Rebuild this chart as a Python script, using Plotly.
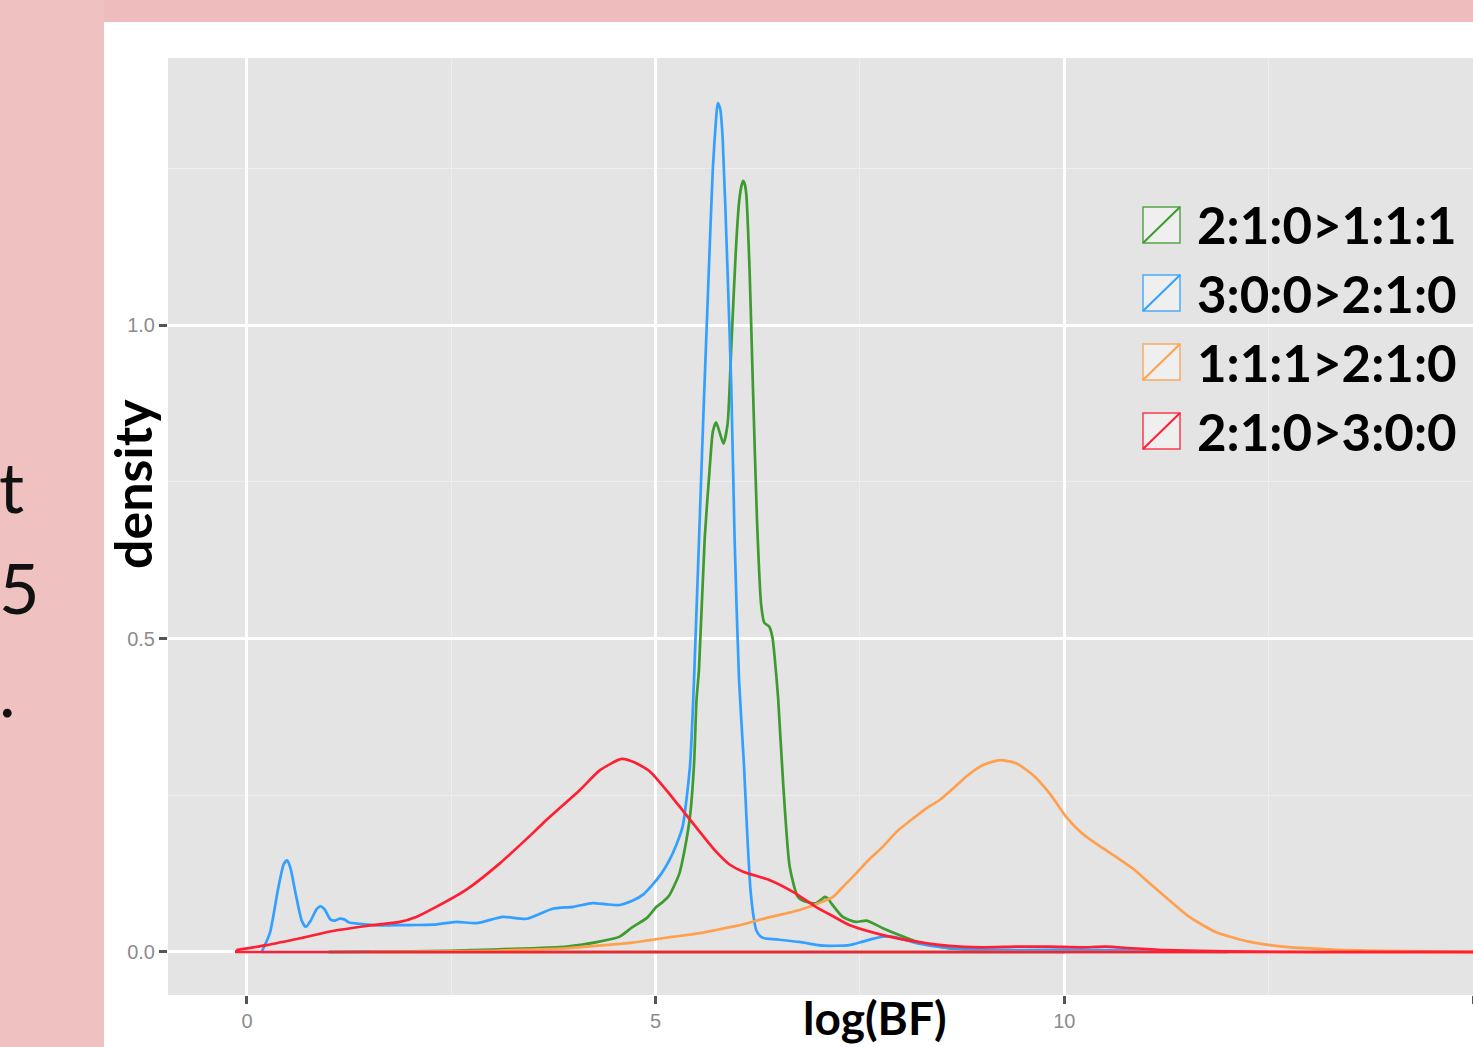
import plotly.graph_objects as go

# ---------------- data ----------------
series_names = ["2:1:0>1:1:1", "3:0:0>2:1:0", "1:1:1>2:1:0", "2:1:0>3:0:0"]
series_colors = ["#3E9B2F", "#33A0FF", "#FFA04E", "#FF1F33"]

green_x = [1.0, 2.0, 2.5, 3.0, 3.5, 3.91, 4.31, 4.56, 4.72, 4.89, 5.01, 5.09, 5.17, 5.29, 5.35,
           5.42, 5.47, 5.50, 5.53, 5.60, 5.66, 5.70, 5.74, 5.78, 5.83, 5.88, 5.925, 5.98, 6.02,
           6.05, 6.07, 6.09, 6.11, 6.15, 6.19, 6.24, 6.29, 6.33, 6.39, 6.43, 6.48, 6.50, 6.56,
           6.64, 6.74, 6.84, 6.96, 7.03, 7.07, 7.11, 7.15, 7.29, 7.45, 7.58, 7.78, 7.98, 8.19,
           8.59, 9.0, 9.5, 10.0]
green_y = [0.0, 0.001, 0.002, 0.004, 0.006, 0.0085, 0.0165, 0.0245, 0.040, 0.054, 0.072, 0.080,
           0.091, 0.125, 0.16, 0.216, 0.30, 0.402, 0.45, 0.659, 0.769, 0.83, 0.845, 0.83, 0.811,
           0.842, 0.963, 1.116, 1.195, 1.222, 1.230, 1.225, 1.207, 1.085, 0.903, 0.689, 0.555,
           0.525, 0.519, 0.501, 0.435, 0.402, 0.269, 0.136, 0.088, 0.080, 0.0776, 0.084, 0.088,
           0.085, 0.0776, 0.056, 0.048, 0.050, 0.038, 0.027, 0.0165, 0.006, 0.003, 0.002, 0.0]

blue_x = [0.18, 0.28, 0.38, 0.45, 0.49, 0.53, 0.60, 0.67, 0.72, 0.78, 0.85, 0.90, 0.95, 1.02,
          1.08, 1.13, 1.19, 1.25, 1.38, 1.55, 1.71, 2.0, 2.28, 2.56, 2.81, 3.13, 3.42, 3.74,
          3.99, 4.23, 4.40, 4.56, 4.72, 4.85, 4.96, 5.07, 5.17, 5.25, 5.33, 5.42, 5.47, 5.58,
          5.65, 5.70, 5.74, 5.76, 5.79, 5.82, 5.88, 5.925, 5.966, 6.02, 6.08, 6.12, 6.16, 6.20,
          6.23, 6.28, 6.33, 6.48, 6.76, 7.05, 7.37, 7.53, 7.78, 7.94, 8.19, 8.59, 9.0, 9.5,
          10.0, 10.5, 11.0, 11.5, 12.0]
blue_y = [0.0, 0.03, 0.10, 0.14, 0.146, 0.135, 0.09, 0.05, 0.040, 0.050, 0.068, 0.073, 0.068,
          0.052, 0.050, 0.053, 0.052, 0.047, 0.045, 0.043, 0.0425, 0.043, 0.0435, 0.048, 0.046,
          0.056, 0.053, 0.069, 0.072, 0.078, 0.076, 0.075, 0.082, 0.092, 0.107, 0.125, 0.147,
          0.17, 0.20, 0.296, 0.435, 0.842, 1.085, 1.25, 1.33, 1.354, 1.345, 1.298, 1.085, 0.903,
          0.659, 0.435, 0.30, 0.19, 0.10, 0.055, 0.035, 0.025, 0.022, 0.020, 0.016, 0.010,
          0.011, 0.0165, 0.0245, 0.0234, 0.014, 0.006, 0.004, 0.003, 0.004, 0.003, 0.002,
          0.001, 0.0]

orange_x = [1.5, 2.5, 3.0, 3.5, 3.91, 4.3, 4.72, 4.93, 5.2, 5.54, 5.74, 6.0, 6.35, 6.76, 7.0,
            7.17, 7.30, 7.45, 7.60, 7.78, 7.95, 8.15, 8.30, 8.47, 8.65, 8.80, 9.0, 9.21, 9.41,
            9.62, 9.82, 10.02, 10.22, 10.42, 10.63, 10.85, 11.04, 11.28, 11.53, 11.85, 12.26,
            12.67, 13.28, 13.9, 14.5, 15.2]
orange_y = [0.0, 0.001, 0.002, 0.004, 0.006, 0.010, 0.015, 0.019, 0.024, 0.030, 0.035, 0.042,
            0.054, 0.067, 0.078, 0.088, 0.105, 0.125, 0.146, 0.168, 0.192, 0.213, 0.228, 0.242,
            0.262, 0.28, 0.298, 0.306, 0.301, 0.282, 0.253, 0.216, 0.189, 0.170, 0.152, 0.132,
            0.11, 0.083, 0.056, 0.032, 0.0165, 0.0085, 0.004, 0.002, 0.001, 0.0]

red_x = [-0.13, 0.24, 0.65, 1.05, 1.46, 1.87, 2.07, 2.28, 2.69, 3.09, 3.50, 3.66, 4.07, 4.32,
         4.585, 4.75, 4.93, 5.17, 5.33, 5.55, 5.74, 5.9, 6.07, 6.39, 6.68, 6.96, 7.17, 7.37,
         7.78, 8.19, 8.59, 9.0, 9.41, 9.82, 10.22, 10.51, 10.83, 11.24, 12.0, 13.0, 15.2]
red_y = [0.003, 0.011, 0.022, 0.0335, 0.0415, 0.048, 0.056, 0.0696, 0.10, 0.141, 0.19, 0.21,
         0.258, 0.29, 0.308, 0.302, 0.288, 0.252, 0.226, 0.19, 0.16, 0.14, 0.128, 0.115,
         0.096, 0.072, 0.057, 0.043, 0.027, 0.0165, 0.0096, 0.0075, 0.0085, 0.0085, 0.0075,
         0.0085, 0.006, 0.003, 0.001, 0.0, 0.0]

x_ticks = [0, 5, 10, 15]
x_tick_labels = ["0", "5", "10", "15"]
y_ticks = [0.0, 0.5, 1.0]
y_tick_labels = ["0.0", "0.5", "1.0"]
x_title = "log(BF)"
y_title = "density"
side_text = ["t", "5", "."]

# ---------------- layout geometry ----------------
W, H = 1473, 1047
L, R, T, B = 168, 1473, 58, 995


def pxx(p):
    return (p - L) / (R - L)


def pxy(p):
    return (B - p) / (B - T)


FONT = "Lato"
LW = 2.7

fig = go.Figure()
all_x = [green_x, blue_x, orange_x, red_x]
all_y = [green_y, blue_y, orange_y, red_y]
for name, col, xs, ys in zip(series_names, series_colors, all_x, all_y):
    # density curve
    fig.add_trace(go.Scatter(x=xs, y=ys, mode="lines", name=name,
                             line=dict(color=col, width=LW, shape="spline", smoothing=0.6),
                             showlegend=False, hoverinfo="skip"))
    # ggplot-style outline closes along the baseline
    fig.add_trace(go.Scatter(x=[xs[0], xs[0], xs[-1], xs[-1]], y=[ys[0], 0.0, 0.0, ys[-1]],
                             mode="lines", line=dict(color=col, width=LW),
                             showlegend=False, hoverinfo="skip"))

shapes = []
annotations = []
# pink slide background strips
pink = "#EEBCBC"
shapes.append(dict(type="rect", xref="paper", yref="paper", x0=pxx(0), x1=pxx(W),
                   y0=pxy(22), y1=pxy(0), fillcolor=pink, line=dict(width=0), layer="below"))
shapes.append(dict(type="rect", xref="paper", yref="paper", x0=pxx(0), x1=pxx(104),
                   y0=pxy(H), y1=pxy(0), fillcolor="#EFC1C1", line=dict(width=0), layer="below"))

# side slide text fragments
for txt, yc in zip(side_text, [486, 587, 690]):
    annotations.append(dict(text=txt, xref="paper", yref="paper", x=pxx(-3), y=pxy(yc),
                            xanchor="left", yanchor="middle", showarrow=False,
                            font=dict(family=FONT, size=70, color="#111111")))

# legend (ggplot-like keys)
leg_centers = [225, 293, 362, 431]
for name, col, yc in zip(series_names, series_colors, leg_centers):
    x0, x1 = 1143, 1180
    y0, y1 = yc - 18, yc + 18
    shapes.append(dict(type="rect", xref="paper", yref="paper", x0=pxx(x0), x1=pxx(x1),
                       y0=pxy(y1), y1=pxy(y0), fillcolor="#F2F2F2",
                       line=dict(color=col, width=1.5), opacity=0.85))
    shapes.append(dict(type="line", xref="paper", yref="paper", x0=pxx(x0), x1=pxx(x1),
                       y0=pxy(y1), y1=pxy(y0), line=dict(color=col, width=2)))
    annotations.append(dict(text=name, xref="paper", yref="paper", x=pxx(1195), y=pxy(yc),
                            xanchor="left", yanchor="middle", showarrow=False,
                            font=dict(family=FONT, size=51, color="#000000", weight="bold")))

# axis titles
annotations.append(dict(text=y_title, xref="paper", yref="paper", x=pxx(132), y=pxy(484),
                        xanchor="center", yanchor="middle", textangle=-90, showarrow=False,
                        font=dict(family=FONT, size=52, color="#000000", weight="bold")))
annotations.append(dict(text=x_title, xref="paper", yref="paper", x=pxx(875), y=pxy(1047),
                        xanchor="center", yanchor="bottom", showarrow=False,
                        font=dict(family=FONT, size=46, color="#000000", weight="bold")))

fig.update_layout(
    width=W, height=H,
    margin=dict(l=L, r=W - R, t=T, b=H - B, pad=0),
    paper_bgcolor="#FFFFFF",
    plot_bgcolor="#E4E4E4",
    shapes=shapes,
    annotations=annotations,
    showlegend=False,
)
tickfont = dict(family="Liberation Sans", size=20, color="#8C8C8C")
fig.update_xaxes(range=[-0.966, 15.0], tickvals=x_ticks, ticktext=x_tick_labels,
                 showgrid=True, gridcolor="#FFFFFF", gridwidth=2.5, zeroline=False,
                 ticks="outside", ticklen=8, tickwidth=2.5, tickcolor="#555555",
                 tickfont=tickfont,
                 minor=dict(dtick=2.5, tick0=0, showgrid=True, gridcolor="#EEEEEE", gridwidth=1),
                 showline=False, fixedrange=True)
fig.update_yaxes(range=[-0.0686, 1.426], tickvals=y_ticks, ticktext=y_tick_labels,
                 showgrid=True, gridcolor="#FFFFFF", gridwidth=2.5, zeroline=False,
                 ticks="outside", ticklen=8, tickwidth=2.5, tickcolor="#555555",
                 tickfont=tickfont,
                 minor=dict(dtick=0.25, tick0=0, showgrid=True, gridcolor="#EEEEEE", gridwidth=1),
                 showline=False, fixedrange=True)

fig.write_html("out.html", config={"displayModeBar": False},
               post_script="document.body.style.margin='0';document.body.style.overflow='hidden';")
